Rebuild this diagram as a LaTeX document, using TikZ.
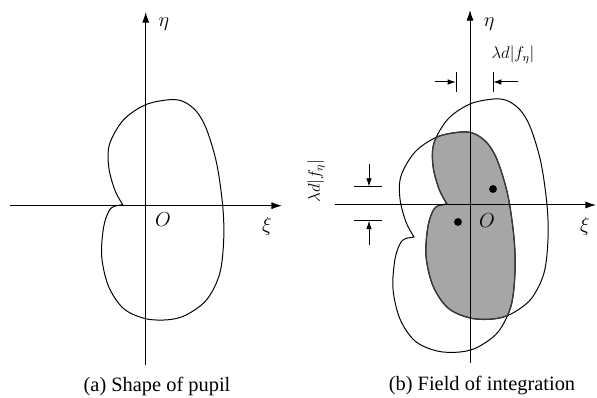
\documentclass[tikz,border=0pt]{standalone}
\usepackage{fontspec}
\setmainfont{Liberation Serif}
\usetikzlibrary{arrows.meta}

% outline of the pupil, centred on its own origin
\newcommand{\pupil}[1]{%
  \path[#1] plot[smooth,tension=0.55] coordinates {
    (-23,1) (-31,16) (-37,39) (-36,62) (-22,86) (0,101) (24,106)
    (38,104) (51,94) (61,76) (71,42) (77,0) (78,-34) (74,-68)
    (61,-94) (41,-109) (23,-114) (0,-113) (-22,-103) (-37,-81)
    (-44,-51) (-42,-21) (-36,-4) (-29,0)} -- cycle;}

\tikzset{
  axis/.style={line width=0.7pt,-{Latex[length=7.5pt,width=5pt]}},
  outline/.style={draw,line width=0.7pt},
  dimarrow/.style={line width=0.7pt,-{Latex[length=6pt,width=4pt]}},
  dimtick/.style={line width=0.7pt},
  axlabel/.style={font=\fontsize{15}{17}\selectfont},
  caption/.style={font=\fontsize{14.5}{17}\selectfont}
}

\begin{document}
\begin{tikzpicture}[x=0.025cm,y=0.025cm,font=\fontsize{12}{14}\selectfont]
\useasboundingbox (0,0) rectangle (597,398);

% (a) shape of pupil
\pupil{outline,shift={(145.7,192.3)}}

\coordinate (xiA0) at (10,192.3);
\coordinate (xiA1) at (282,192.3);
\coordinate (etaA0) at (145.7,33);
\coordinate (etaA1) at (145.7,386);
\draw[axis] (xiA0) -- (xiA1);
\draw[axis] (etaA0) -- (etaA1);

\node[axlabel] (etaLabA) at (164,374) {$\eta$};
\node[axlabel] (xiLabA) at (267,172) {$\xi$};
\node[axlabel] (oLabA) at (163,178) {$O$};
\node[caption] (capA) at (157,12) {(a) Shape of pupil};

% (b) field of integration
\begin{scope}
  \pupil{clip,shift={(470,193)}}
  \pupil{fill=gray!70,shift={(437,160)}}
\end{scope}
\pupil{outline,shift={(470,193)}}
\pupil{outline,shift={(437,160)}}
% inner edges of the shaded part
\begin{scope}
  \pupil{clip,shift={(470,193)}}
  \pupil{draw=gray!45!black,line width=0.9pt,shift={(437,160)}}
\end{scope}
\begin{scope}
  \pupil{clip,shift={(437,160)}}
  \pupil{draw=gray!45!black,line width=0.9pt,shift={(470,193)}}
\end{scope}

\fill (493,209) circle (2.8pt);
\fill (458,176) circle (2.8pt);

\coordinate (xiB0) at (335,193);
\coordinate (xiB1) at (596,193);
\coordinate (etaB0) at (470,35);
\coordinate (etaB1) at (470,388);
\draw[axis] (xiB0) -- (xiB1);
\draw[axis] (etaB0) -- (etaB1);

\node[axlabel] (etaLabB) at (489,374) {$\eta$};
\node[axlabel] (xiLabB) at (585,172) {$\xi$};
\node[axlabel] (oLabB) at (487,177) {$O$};

% horizontal offset
\coordinate (hl0) at (435,316);
\coordinate (hl1) at (456,316);
\coordinate (hr0) at (518,316);
\coordinate (hr1) at (493,316);
\draw[dimarrow] (hl0) -- (hl1);
\draw[dimarrow] (hr0) -- (hr1);
\draw[dimtick] (456,306) -- (456,326);
\draw[dimtick] (493,306) -- (493,326);
\node (hLab) at (513,343) {$\lambda d|f_\eta|$};

% vertical offset
\coordinate (vt0) at (369,234);
\coordinate (vt1) at (369,211.3);
\coordinate (vb0) at (369,153);
\coordinate (vb1) at (369,177.3);
\draw[dimarrow] (vt0) -- (vt1);
\draw[dimarrow] (vb0) -- (vb1);
\draw[dimtick] (354,211.3) -- (382,211.3);
\draw[dimtick] (354,177.3) -- (382,177.3);
\node[rotate=90] (vLab) at (316,217) {$\lambda d|f_\eta|$};

\node[caption] (capB) at (482,12) {(b) Field of integration};
\end{tikzpicture}
\end{document}
